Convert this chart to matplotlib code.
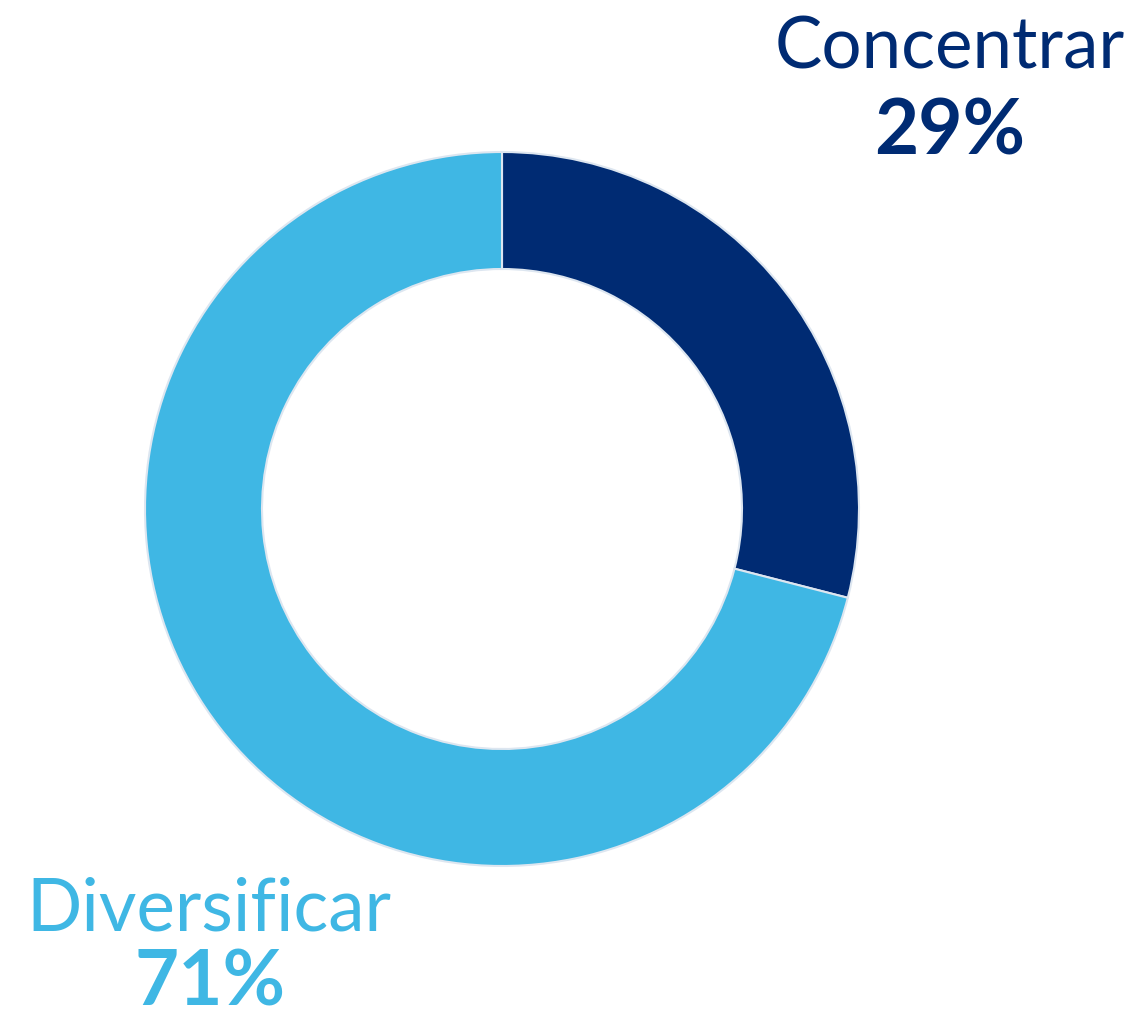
import matplotlib
matplotlib.use('Agg')
import matplotlib.pyplot as plt

labels = ['Concentrar', 'Diversificar']
values = [29, 71]
colors = ['#002B73', '#3FB7E4']

fig = plt.figure(figsize=(11.32, 10.15), dpi=100)
ax = fig.add_axes([0, 0, 1, 1])
ax.pie(values, colors=colors, startangle=90, counterclock=False,
       radius=357, center=(502, 506),
       wedgeprops=dict(width=117, edgecolor='#dde6f0', linewidth=1.5))
ax.set_xlim(0, 1132)
ax.set_ylim(0, 1015)
ax.set_aspect('equal')
ax.axis('off')

# labels
ax.text(950, 1015 - 48, labels[0], color=colors[0], fontsize=51,
        family='Lato', ha='center', va='center')
ax.text(950, 1015 - 132, '%d%%' % values[0], color=colors[0], fontsize=55,
        family='Lato', fontweight='bold', ha='center', va='center')
ax.text(209, 1015 - 910, labels[1], color=colors[1], fontsize=52.5,
        family='Lato', ha='center', va='center')
ax.text(210, 1015 - 984, '%d%%' % values[1], color=colors[1], fontsize=55,
        family='Lato', fontweight='bold', ha='center', va='center')

fig.savefig('out.png', dpi=100)
